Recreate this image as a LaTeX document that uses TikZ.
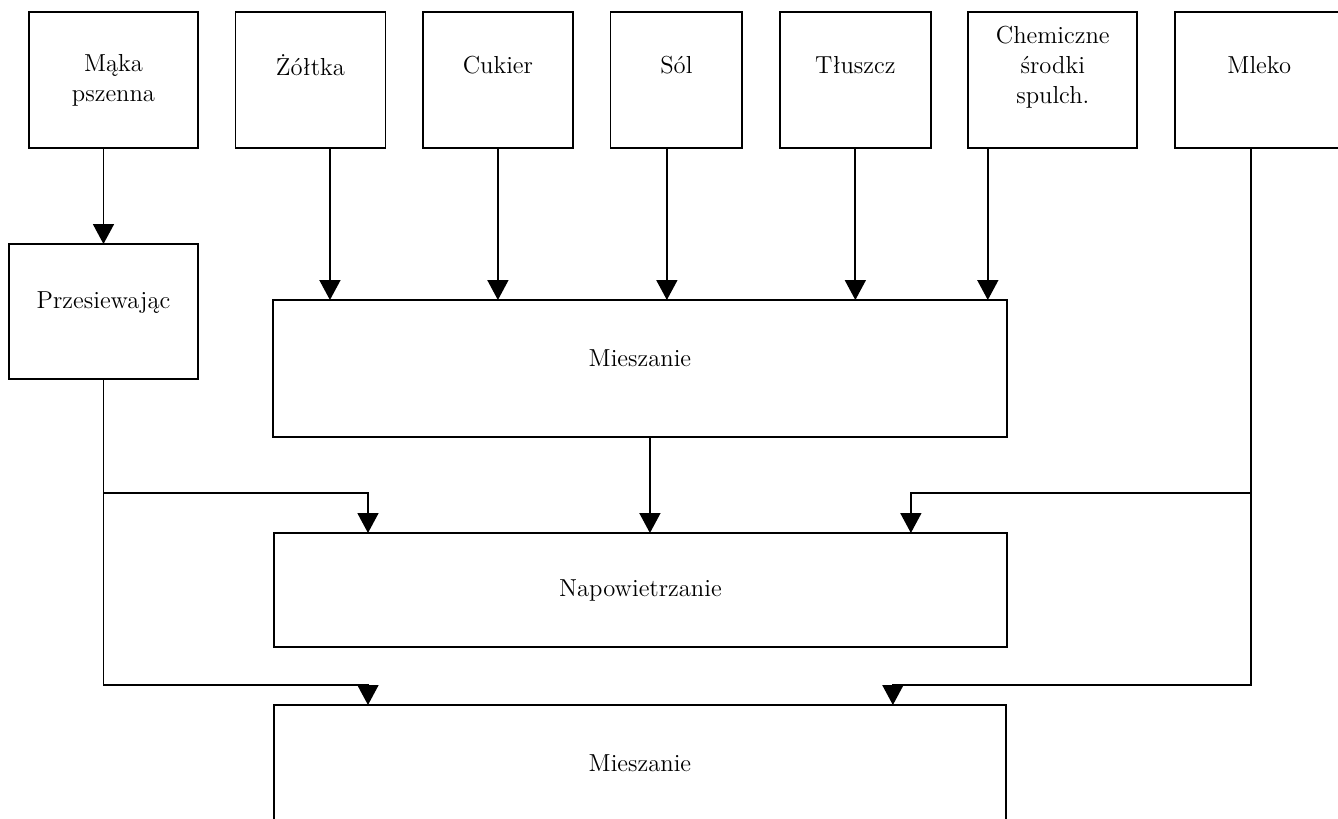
\documentclass[tikz,border=0pt]{standalone}
\usepackage{fontspec}
\usepackage{tikz}
\usetikzlibrary{positioning, arrows.meta, calc}

\begin{document}
\begin{tikzpicture}[
	  x=0.02cm, y=-0.02cm,
	  font=\fontsize{14}{17}\selectfont,
	  node distance=0.75cm,
	  box/.style={
	    draw,
	    line width=1pt,
	    align=center,
	    inner sep=0pt,
	    outer sep=0pt
	  },
	  inbox/.style={box, minimum height=2.72cm},
	  procbox/.style={box, anchor=north west},
	  arrow/.style={-{Triangle[width=0.42cm,length=0.4cm]}, line width=1pt}
	]
	\path[use as bounding box, clip] (0,0) rectangle (1338,818);

	% --- Ingredients (top row) ---
	\node[inbox, minimum width=3.38cm, anchor=north west] (maka) at (29,12) {Mąka\\pszenna};
	\node[inbox, minimum width=3.0cm, right=of maka] (zoltka) {Żółtka\\~};
	\node[inbox, minimum width=3.0cm, right=of zoltka] (cukier) {Cukier\\~};
	\node[inbox, minimum width=2.64cm, right=of cukier] (sol) {Sól\\~};
	\node[inbox, minimum width=3.02cm, right=of sol] (tluszcz) {Tłuszcz\\~};
	\node[inbox, minimum width=3.38cm, right=of tluszcz] (chem) {Chemiczne\\środki\\spulch.\\~};
	\node[inbox, minimum width=3.38cm, right=of chem] (mleko) {Mleko\\~};

	% --- Process steps ---
	\node[procbox, minimum width=3.78cm, minimum height=2.7cm, text depth=0.46cm] (przes) at (9,244) {Przesiewając};
	\node[procbox, minimum width=14.68cm, minimum height=2.74cm, text depth=0.4cm] (mix1) at (273,300) {Mieszanie};
	\node[procbox, minimum width=14.66cm, minimum height=2.28cm] (napow) at (274,533) {Napowietrzanie};
	\node[procbox, minimum width=14.64cm, minimum height=2.74cm, text depth=0.4cm] (mix2) at (274,705) {Mieszanie};

	% --- Bus lines ---
	\coordinate (bus1) at (0,493);
	\coordinate (bus2) at (0,685);
	\coordinate (mlk) at ([xshift=-0.17cm]mleko.south);

	% --- Flows ---
	\draw[arrow] (przes.north |- maka.south) -- (przes.north);
	\draw[arrow] ([xshift=0.39cm]zoltka.south) -- ([xshift=0.39cm]zoltka.south |- mix1.north);
	\draw[arrow] (cukier.south) -- (cukier.south |- mix1.north);
	\draw[arrow] ([xshift=-0.19cm]sol.south) -- ([xshift=-0.19cm]sol.south |- mix1.north);
	\draw[arrow] (tluszcz.south) -- (tluszcz.south |- mix1.north);
	\draw[arrow] ([xshift=-1.3cm]chem.south) -- ([xshift=-1.3cm]chem.south |- mix1.north);

	\draw[arrow] (przes.south) -- (przes.south |- bus1) -| ([xshift=1.88cm]napow.north west);
	\draw[arrow] (przes.south) -- (przes.south |- bus2) -| ([xshift=1.88cm]mix2.north west);
	\draw[arrow] ([xshift=0.2cm]mix1.south) -- ([xshift=0.2cm]mix1.south |- napow.north);
	\draw[arrow] (mlk) -- (mlk |- bus1) -| ([xshift=-1.92cm]napow.north east);
	\draw[arrow] (mlk) -- (mlk |- bus2) -| ([xshift=-2.26cm]mix2.north east);

\end{tikzpicture}
\end{document}
